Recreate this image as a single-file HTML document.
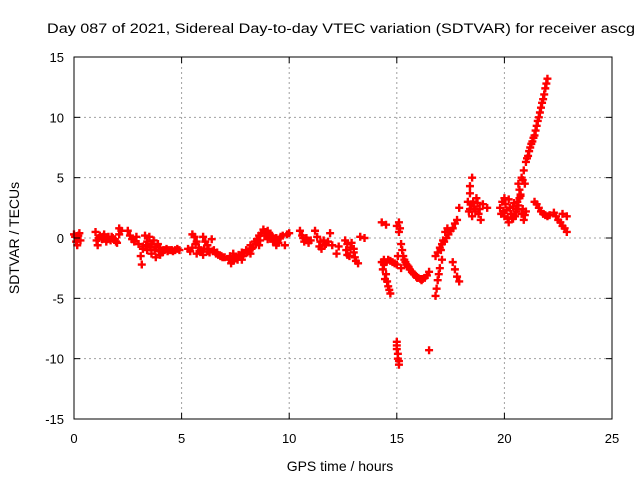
<!DOCTYPE html>
<html><head><meta charset="utf-8"><style>
html,body{margin:0;padding:0;background:#fff;}
svg text{font-family:"Liberation Sans",sans-serif;font-size:13px;fill:#000;}
</style></head><body>
<svg id="chart" width="640" height="480" viewBox="0 0 640 480" xmlns="http://www.w3.org/2000/svg">
<rect width="640" height="480" fill="#fff"/>
<g id="grid"></g>
<g id="pts"></g>
<rect x="74" y="57" width="538" height="362" fill="none" stroke="#000" stroke-width="1"/>
<g id="ticks"></g>
<text x="47" y="33" style="font-size:13.5px" textLength="588" lengthAdjust="spacingAndGlyphs">Day 087 of 2021, Sidereal Day-to-day VTEC variation (SDTVAR) for receiver ascg</text>
<text x="340" y="471" text-anchor="middle" style="font-size:14px">GPS time / hours</text>
<text transform="translate(19,238) rotate(-90)" text-anchor="middle" style="font-size:14px">SDTVAR / TECUs</text>
</svg>
<script>
const xTicks=[0,5,10,15,20,25];
const yTicks=[-15,-10,-5,0,5,10,15];
const times=[0,0.05,0.1,0.15,0.2,0.25,0.3,
1.0,1.05,1.1,1.2,1.3,1.4,1.5,1.6,1.7,1.8,1.9,2.0,2.1,2.2,2.1,1.15,1.35,1.55,1.75,1.95,
2.5,2.6,2.7,2.8,2.9,3.0,3.1,3.15,3.2,3.3,3.4,3.5,3.6,3.7,3.8,3.9,4.0,4.1,4.2,4.3,4.4,4.5,4.6,4.7,4.8,4.9,3.2,3.4,3.6,3.8,4.0,3.35,3.55,3.75,3.95,4.15,4.35,4.55,
5.3,5.4,5.5,5.6,5.7,5.8,5.9,6.0,6.1,6.2,6.3,6.4,6.5,6.6,6.7,6.8,6.9,7.0,5.5,5.7,6.0,6.2,5.65,5.85,6.05,6.25,6.45,6.65,6.85,
7.2,7.3,7.4,7.5,7.6,7.7,7.8,7.9,8.0,8.1,8.2,8.3,8.4,8.5,8.6,8.7,8.8,8.9,9.0,9.1,9.2,9.3,9.4,9.5,9.6,9.7,9.8,9.9,10.0,7.4,7.8,8.2,8.6,9.0,9.4,7.25,7.45,7.65,7.85,8.05,8.25,8.45,8.65,8.85,9.05,9.25,9.45,
10.5,10.6,10.7,10.8,10.9,11.0,11.2,11.3,11.4,11.5,11.6,11.7,11.8,11.9,12.0,12.2,12.3,10.65,10.85,11.45,11.65,
12.6,12.7,12.8,12.9,13.0,13.1,13.2,13.3,13.5,12.7,13.0,12.65,12.85,13.05,
14.3,14.4,14.5,14.6,14.7,14.4,14.6,14.8,15.0,15.2,14.3,14.5,14.35,14.45,14.55,14.65,14.5,14.7,14.9,
15.0,15.1,15.2,15.3,15.4,15.5,15.7,15.9,16.1,16.3,16.5,15.05,15.1,15.15,15.25,15.35,15.45,15.6,15.8,16.0,16.2,16.4,15.55,15.75,15.95,16.15,
15.0,15.0,15.05,15.05,15.1,16.5,15.0,15.1,
16.8,17.0,17.2,17.4,17.6,17.8,17.9,16.8,16.9,17.0,17.1,17.6,17.7,17.8,17.9,16.9,17.1,17.3,17.5,17.7,16.85,16.95,17.05,17.15,17.25,17.35,
18.3,18.4,18.5,18.6,18.7,18.8,18.9,19.0,19.2,18.5,18.4,18.4,18.35,18.45,18.55,18.65,18.75,18.85,
19.8,19.9,20.0,20.1,20.2,20.3,20.4,20.5,20.6,20.7,20.8,20.9,20.0,20.2,20.4,19.85,19.95,20.05,20.15,20.25,20.35,20.45,20.55,20.65,20.75,20.85,20.95,21.0,
20.6,20.8,21.0,21.1,21.2,21.3,21.4,21.5,21.6,21.7,21.8,21.9,22.0,20.7,20.9,20.95,21.05,21.15,21.25,21.35,21.45,21.55,21.65,21.75,21.85,21.95,20.65,20.75,20.85,
21.4,21.6,21.8,22.0,22.3,22.5,22.7,22.9,22.7,22.9,21.5,21.7,21.9,22.1,22.4,22.6,22.8];
const values=[0.3,0.1,-0.3,-0.6,0.2,0.4,-0.2,
0.5,-0.2,-0.6,0.2,-0.1,0.3,-0.3,0.1,-0.2,0.0,-0.1,-0.4,0.3,0.6,0.8,0.0,0.1,-0.1,0.1,-0.3,
0.6,0.2,-0.1,-0.3,0.1,-0.5,-1.5,-2.2,-0.7,0.2,-0.3,0.1,-0.5,-0.2,-0.7,-0.5,-0.8,-1.2,-1.0,-0.9,-1.0,-1.0,-1.1,-1.0,-0.9,-1.0,-0.9,-1.0,-1.3,-1.6,-1.4,-0.6,-0.8,-1.0,-1.1,-1.0,-1.1,-1.0,
-0.9,-1.1,0.3,0.1,-0.3,-0.8,-1.0,0.1,-0.3,-0.6,-1.2,-0.1,-1.0,-1.3,-1.4,-1.5,-1.6,-1.6,-0.8,-1.3,-1.4,-1.1,-0.5,-1.1,-0.9,-0.9,-1.1,-1.2,-1.5,
-1.8,-2.1,-1.9,-1.7,-1.8,-1.5,-1.2,-1.3,-1.0,-1.1,-0.6,-0.8,-0.3,-0.1,0.2,0.4,0.7,0.5,0.6,0.3,0.2,-0.2,0.0,-0.4,0.1,0.2,-0.6,0.3,0.4,-1.3,-1.8,-1.3,-0.6,-0.1,-0.6,-1.5,-1.6,-1.4,-1.5,-1.2,-0.9,-0.5,-0.2,0.2,0.1,-0.3,-0.3,
0.6,0.2,-0.3,0.0,-0.4,-0.2,0.6,0.1,-0.7,-0.9,-0.2,-0.5,-0.3,0.4,-0.6,-1.3,-0.7,0.0,-0.2,-0.3,-0.6,
-0.2,-0.5,-1.5,-0.4,-0.9,-1.9,-2.1,0.1,0.0,-1.4,-1.2,-1.0,-0.8,-1.6,
-2.0,-2.2,-3.0,-4.0,-4.6,-1.8,-1.8,-2.0,-2.2,-2.5,1.3,1.1,-2.6,-3.4,-3.6,-4.3,-2.0,-1.9,-2.1,
1.0,0.5,-0.5,-1.5,-2.0,-2.3,-2.8,-3.2,-3.4,-3.3,-2.8,-1.5,1.3,0.8,-1.0,-1.8,-2.2,-2.6,-3.0,-3.3,-3.4,-3.1,-2.4,-2.9,-3.3,-3.5,
-8.6,-9.2,-9.6,-10.0,-10.5,-9.3,-8.9,-10.2,
-1.5,-0.8,-0.3,0.3,0.8,1.5,2.5,-4.8,-3.5,-2.5,-1.8,-2.0,-2.6,-3.2,-3.6,-1.2,-0.5,0.0,0.6,1.2,-4.2,-3.0,-1.0,-0.2,0.5,0.8,
3.0,2.4,1.8,2.6,3.3,2.0,1.5,2.8,2.5,5.0,4.3,3.7,2.2,2.8,3.0,2.2,2.9,2.4,
2.5,3.0,1.8,2.3,3.2,2.0,2.6,1.8,2.4,3.3,2.0,1.5,3.3,1.3,1.6,2.0,2.2,2.8,1.6,2.5,1.7,2.9,2.2,2.7,3.5,2.4,1.9,2.2,
3.0,5.0,6.3,6.8,7.5,8.0,8.5,9.3,10.0,10.8,11.5,12.4,13.2,4.0,5.6,4.5,6.6,7.2,7.8,8.3,8.9,9.7,10.4,11.2,11.9,12.8,4.5,3.6,4.8,
3.0,2.5,2.0,1.8,2.1,1.5,1.0,0.5,2.0,1.8,2.8,2.2,1.9,1.9,1.8,1.3,0.8];
const X0=74,X1=612,Y0=419,Y1=57;
const xs=t=>X0+(t-0)/25*(X1-X0);
const ys=v=>Y0-(v+15)/30*(Y0-Y1);
const NS='http://www.w3.org/2000/svg';
const grid=document.getElementById('grid'),ticks=document.getElementById('ticks'),pts=document.getElementById('pts');
function mk(tag,attrs,parent){const e=document.createElementNS(NS,tag);for(const k in attrs)e.setAttribute(k,attrs[k]);parent.appendChild(e);return e;}
xTicks.forEach(t=>{const x=xs(t);
 if(t>0&&t<25){const g=mk('line',{x1:x,x2:x,y1:Y1,y2:Y0,stroke:'#a0a0a0','stroke-dasharray':'2,3'},grid);
 
 }
 mk('line',{x1:x,x2:x,y1:Y0,y2:Y0-6,stroke:'#000'},ticks);
 mk('line',{x1:x,x2:x,y1:Y1,y2:Y1+6,stroke:'#000'},ticks);
 const l=mk('text',{x:x,y:Y0+24,'text-anchor':'middle'},ticks);l.textContent=t;
 
 });
yTicks.forEach(v=>{const y=ys(v);
 if(v>-15&&v<15){const g=mk('line',{x1:X0,x2:X1,y1:y,y2:y,stroke:'#a0a0a0','stroke-dasharray':'2,3'},grid);
 
 }
 mk('line',{x1:X0,x2:X0+6,y1:y,y2:y,stroke:'#000'},ticks);
 mk('line',{x1:X1,x2:X1-6,y1:y,y2:y,stroke:'#000'},ticks);
 const l=mk('text',{x:X0-10,y:y+5,'text-anchor':'end'},ticks);l.textContent=v;
 
 });
times.forEach((t,i)=>{const x=xs(t),y=ys(values[i]);
 const p=mk('path',{d:`M${x-4},${y}h8M${x},${y-4}v8`,stroke:'#f00','stroke-width':2.4},pts);
 
 });
</script>
</body></html>
